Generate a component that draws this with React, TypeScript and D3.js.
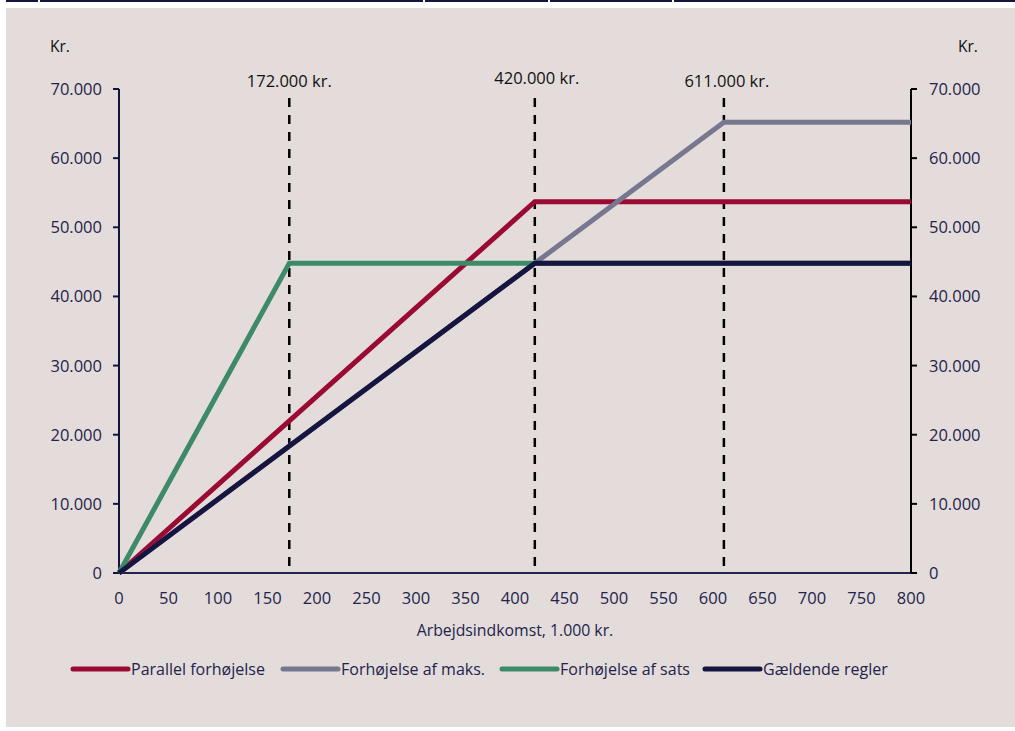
import {useMemo} from "react";
import * as d3 from "d3";

const WIDTH = 1015;
const HEIGHT = 731;
const MARGIN = {top: 89, right: 104, bottom: 158, left: 119};

// Arbejdsindkomst i 1.000 kr.
const parallelX = [0, 420, 800];
const parallelY = [0, 53700, 53700];
const maksX = [0, 420, 611, 800];
const maksY = [0, 44800, 65200, 65200];
const satsX = [0, 172, 800];
const satsY = [0, 44800, 44800];
const gaeldendeX = [0, 420, 800];
const gaeldendeY = [0, 44800, 44800];

const seriesNames = ["Parallel forhøjelse", "Forhøjelse af maks.", "Forhøjelse af sats", "Gældende regler"];
const seriesColors = ["#9a0a33", "#777790", "#3d8a68", "#15153f"];

const markerValues = [172, 420, 611];
const markerLabels = ["172.000 kr.", "420.000 kr.", "611.000 kr."];

const xTicks = d3.range(0, 801, 50);
const yTicks = d3.range(0, 70001, 10000);

const FONT = "'Open Sans', 'Noto Sans', sans-serif";
const NAVY = "#23234d";

const da = d3.formatLocale({decimal: ",", thousands: ".", grouping: [3], currency: ["", " kr."]});
const fmt = da.format(",d");

export default function App() {
    const boundsWidth = WIDTH - MARGIN.left - MARGIN.right;
    const boundsHeight = HEIGHT - MARGIN.top - MARGIN.bottom;

    const xScale = useMemo(() => d3.scaleLinear().domain([0, 800]).range([0, boundsWidth]), [boundsWidth]);
    const yScale = useMemo(() => d3.scaleLinear().domain([0, 70000]).range([boundsHeight, 0]), [boundsHeight]);

    const series = [
        {xs: parallelX, ys: parallelY},
        {xs: maksX, ys: maksY},
        {xs: satsX, ys: satsY},
        {xs: gaeldendeX, ys: gaeldendeY},
    ];

    const line = d3.line<[number, number]>()
        .x((d) => xScale(d[0]))
        .y((d) => yScale(d[1]));

    // legend positions (line start x)
    const legendX = [73, 283, 502, 705];
    // small label nudges as in the original
    const labelDx = [0, 2, 3];
    const labelDy = [-2, -5, -2];

    return (
        <svg width={WIDTH} height={HEIGHT} style={{position: "absolute", left: 0, top: 0}} fontFamily={FONT}>
            <rect x={0} y={0} width={WIDTH} height={HEIGHT} fill="#ffffff"/>
            <rect x={6} y={8} width={WIDTH - 6} height={719} fill="#e3dcda"/>
            <g fill="#14143c">
                <rect x={6} y={0} width={32} height={2}/>
                <rect x={40} y={0} width={383} height={2}/>
                <rect x={425} y={0} width={123} height={2}/>
                <rect x={550} y={0} width={122} height={2}/>
                <rect x={674} y={0} width={341} height={2}/>
            </g>

            <text x={50} y={52} fontSize={15.5} fill="#111">Kr.</text>
            <text x={958} y={52} fontSize={15.5} fill="#111">Kr.</text>

            <g transform={`translate(${MARGIN.left},${MARGIN.top})`}>
                {/* dashed markers */}
                {markerValues.map((v, i) => (
                    <g key={i}>
                        <line x1={xScale(v)} x2={xScale(v)} y1={yScale(70000) + 9} y2={boundsHeight}
                              stroke="#000" strokeWidth={2.5} strokeDasharray="9,8"/>
                        <text x={xScale(v) + labelDx[i]} y={labelDy[i]} textAnchor="middle" fontSize={16.5} fill="#111">
                            {markerLabels[i]}
                        </text>
                    </g>
                ))}

                {/* axes */}
                <line x1={0} x2={boundsWidth} y1={boundsHeight} y2={boundsHeight} stroke={NAVY} strokeWidth={2}/>
                <line x1={0} x2={0} y1={0} y2={boundsHeight} stroke="#14143c" strokeWidth={2}/>
                <line x1={boundsWidth} x2={boundsWidth} y1={0} y2={boundsHeight} stroke="#000" strokeWidth={2}/>
                {yTicks.map((t) => (
                    <g key={t} transform={`translate(0,${yScale(t)})`}>
                        <line x1={-6} x2={0} stroke="#14143c" strokeWidth={2}/>
                        <line x1={boundsWidth} x2={boundsWidth + 6} stroke="#000" strokeWidth={2}/>
                        <text x={-17} dy="0.36em" textAnchor="end" fontSize={16.5} fill={NAVY}>{fmt(t)}</text>
                        <text x={boundsWidth + 18} dy="0.36em" textAnchor="start" fontSize={16.5} fill={NAVY}>{fmt(t)}</text>
                    </g>
                ))}
                {xTicks.map((t) => (
                    <text key={t} x={xScale(t)} y={boundsHeight + 31} textAnchor="middle" fontSize={16.5} fill={NAVY}>
                        {t}
                    </text>
                ))}
                <text x={boundsWidth / 2} y={boundsHeight + 63} textAnchor="middle" fontSize={15.8} fill={NAVY}>
                    Arbejdsindkomst, 1.000 kr.
                </text>

                {/* series */}
                {series.map((s, i) => (
                    <path key={i}
                          d={line(s.xs.map((x, j) => [x, s.ys[j]] as [number, number])) ?? ""}
                          fill="none" stroke={seriesColors[i]} strokeWidth={5} strokeLinejoin="miter"/>
                ))}
            </g>

            {/* legend */}
            <g transform="translate(0,669)">
                {seriesNames.map((name, i) => (
                    <g key={i} transform={`translate(${legendX[i]},0)`}>
                        <line x1={0} x2={55} stroke={seriesColors[i]} strokeWidth={5} strokeLinecap="round"/>
                        <text x={58} dy="0.36em" fontSize={16} fill={NAVY}>{name}</text>
                    </g>
                ))}
            </g>
        </svg>
    );
}
